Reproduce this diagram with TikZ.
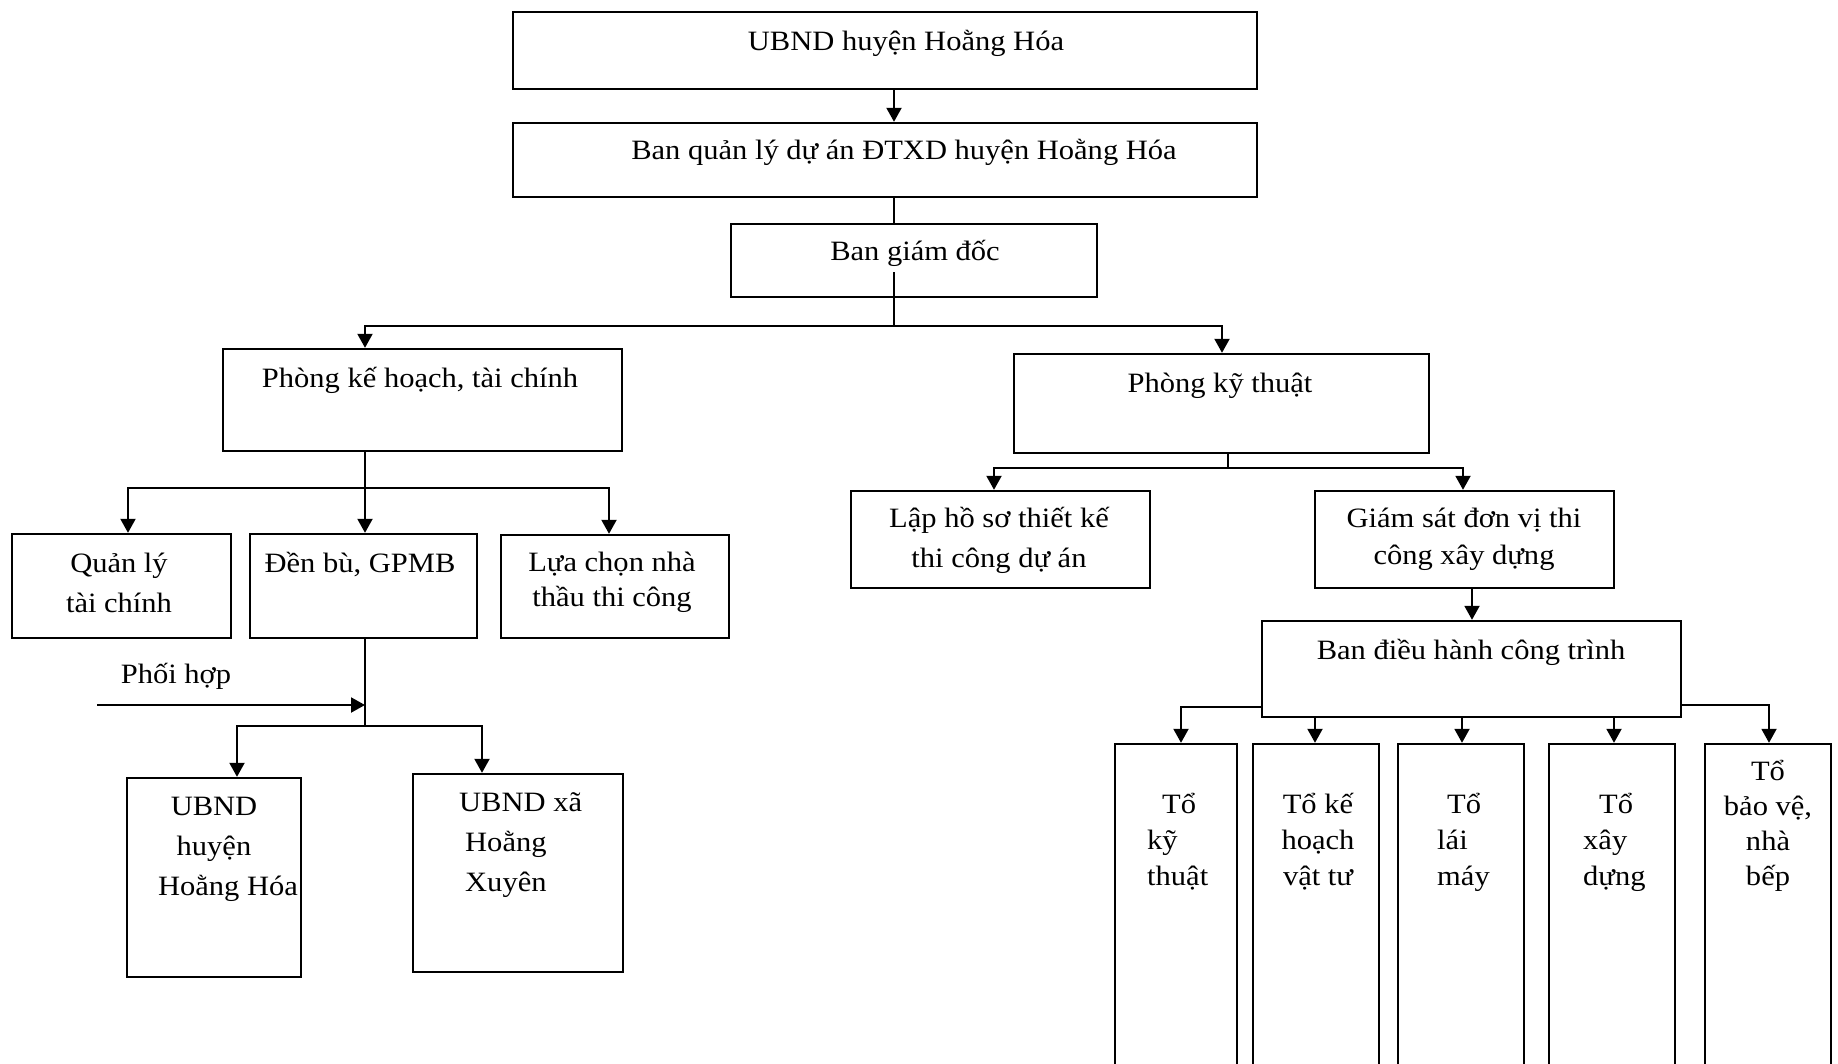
\documentclass[tikz,border=0pt]{standalone}
\usepackage{fontspec}
\setmainfont{Liberation Serif}[FakeStretch=1.09]
\usetikzlibrary{arrows.meta,positioning}

\begin{document}
\begin{tikzpicture}[x=1pt,y=-1pt,>={Triangle[length=14pt,width=15pt]},
    box/.style={draw,line width=2.4pt,inner sep=0pt},
    lsp/.style={font=\fontsize{28}{#1}\selectfont},
    txt/.style={anchor=base,align=center,inner sep=0pt,lsp=38},
    ltxt/.style={anchor=base west,align=left,inner sep=0pt,lsp=36},
    link/.style={line width=2pt}]
  \useasboundingbox (0,0) rectangle (1838,1063);
  \clip (0,0) rectangle (1838,1063);

  % top levels
  \node[box,minimum width=744,minimum height=77] (ubnd) at (885,50.5) {};
  \node[box,minimum width=744,minimum height=74] (bql) at (885,160) {};
  \node[box,minimum width=366,minimum height=73] (bgd) at (914,260.5) {};
  \node[txt] (ubndT) at (906,50) {UBND huyện Hoằng Hóa};
  \node[txt] (bqlT) at (904,159) {Ban quản lý dự án ĐTXD huyện Hoằng Hóa};
  \node[txt] (bgdT) at (915,260) {Ban giám đốc};

  % phong ban
  \node[box,minimum width=399,minimum height=102] (pkh) at (422.5,400) {};
  \node[box,minimum width=415,minimum height=99] (pkt) at (1221.5,403.5) {};
  \node[txt] (pkhT) at (420,387) {Phòng kế hoạch, tài chính};
  \node[txt] (pktT) at (1220,392) {Phòng kỹ thuật};

  % left branch (multi-line texts sit on their last baseline)
  \node[box,minimum width=219,minimum height=104] (qltc) at (121.5,586) {};
  \node[box,minimum width=227,minimum height=104] (denbu) at (363.5,586) {};
  \node[box,minimum width=228,minimum height=103] (lcnt) at (615,586.5) {};
  \node[txt,lsp=40] (qltcT) at (119,612) {Quản lý\\tài chính};
  \node[txt] (denbuT) at (360,572) {Đền bù, GPMB};
  \node[txt,lsp=35] (lcntT) at (612,606) {Lựa chọn nhà\\thầu thi công};
  \node[txt] (phT) at (176,683) {Phối hợp};
  \node[box,minimum width=174,minimum height=199] (uh) at (214,877.5) {};
  \node[box,minimum width=210,minimum height=198] (ux) at (518,873) {};
  \node[txt,lsp=40] (uhT) at (214,895) {UBND\\huyện\\\hspace{28pt}Hoằng Hóa};
  \node[ltxt,lsp=40] (uxT) at (459,891) {UBND xã\\\hspace{6pt}Hoằng\\\hspace{6pt}Xuyên};

  % right branch
  \node[box,minimum width=299,minimum height=97] (lhs) at (1000.5,539.5) {};
  \node[box,minimum width=299,minimum height=97] (gs) at (1464.5,539.5) {};
  \node[box,minimum width=419,minimum height=96] (bdh) at (1471.5,669) {};
  \node[txt,lsp=40] (lhsT) at (999,567) {Lập hồ sơ thiết kế\\thi công dự án};
  \node[txt,lsp=37] (gsT) at (1464,564) {Giám sát đơn vị thi\\công xây dựng};
  \node[txt] (bdhT) at (1471,659) {Ban điều hành công trình};

  % to
  \node[box,minimum width=122,minimum height=336] (t1) at (1176,912) {};
  \node[box,minimum width=126,minimum height=336] (t2) at (1316,912) {};
  \node[box,minimum width=126,minimum height=336] (t3) at (1461,912) {};
  \node[box,minimum width=126,minimum height=336] (t4) at (1612,912) {};
  \node[box,minimum width=126,minimum height=336] (t5) at (1768,912) {};
  \node[ltxt] (t1T) at (1147,885) {\hspace{15pt}Tổ\\kỹ\\thuật};
  \node[txt,lsp=36] (t2T) at (1318,885) {Tổ kế\\hoạch\\vật tư};
  \node[ltxt] (t3T) at (1437,885) {\hspace{10pt}Tổ\\lái\\máy};
  \node[ltxt] (t4T) at (1583,885) {\hspace{16pt}Tổ\\xây\\dựng};
  \node[txt,lsp=35] (t5T) at (1768,885) {Tổ\\bảo vệ,\\nhà\\bếp};

  % connectors
  \coordinate (spine) at (894,0);
  \coordinate (jin) at (894,272);
  \coordinate (j1) at (894,326);
  \coordinate (j2) at (365,488);
  \coordinate (j3) at (365,726);
  \coordinate (ph) at (97,705);
  \coordinate (j4) at (1228,468);

  \draw[link,->] (spine |- ubnd.south) -- (spine |- bql.north);
  \draw[link] (spine |- bql.south) -- (spine |- bgd.north);
  \draw[link] (jin) -- (j1);
  \draw[link,->] (j1) -| ([xshift=-57.5pt]pkh.north);
  \draw[link,->] (j1) -| ([xshift=0.5pt]pkt.north);

  \draw[link] ([xshift=-57.5pt]pkh.south) -- (j2);
  \draw[link,->] (j2) -| ([xshift=6.5pt]qltc.north);
  \draw[link,->] (j2) -- ([xshift=1.5pt]denbu.north);
  \draw[link,->] (j2) -| ([xshift=-6pt]lcnt.north);

  \draw[link] ([xshift=1.5pt]denbu.south) -- (j3);
  \draw[link,->] (ph) -- (ph -| j3);
  \draw[link,->] (j3) -| ([xshift=23pt]uh.north);
  \draw[link,->] (j3) -| ([xshift=-36pt]ux.north);

  \draw[link] ([xshift=6.5pt]pkt.south) -- (j4);
  \draw[link,->] (j4) -| ([xshift=-6.5pt]lhs.north);
  \draw[link,->] (j4) -| ([xshift=-1.5pt]gs.north);
  \draw[link,->] ([xshift=7.5pt]gs.south) -- ([xshift=0.5pt]bdh.north);

  \draw[link,->] ([yshift=-38pt]bdh.west) -| ([xshift=5pt]t1.north);
  \draw[link,->] ([xshift=-156.5pt]bdh.south) -- ([xshift=-1pt]t2.north);
  \draw[link,->] ([xshift=-9.5pt]bdh.south) -- ([xshift=1pt]t3.north);
  \draw[link,->] ([xshift=142.5pt]bdh.south) -- ([xshift=2pt]t4.north);
  \draw[link,->] ([yshift=-36pt]bdh.east) -| ([xshift=1pt]t5.north);
\end{tikzpicture}
\end{document}
